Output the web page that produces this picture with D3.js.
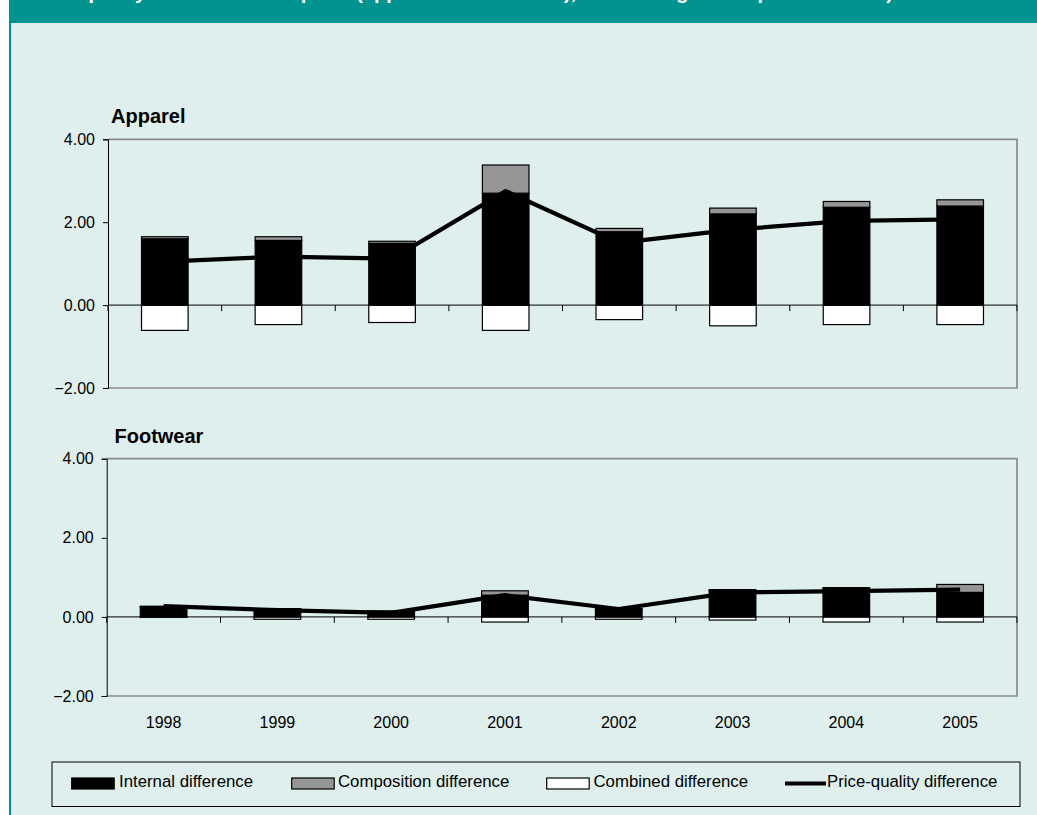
<!DOCTYPE html>
<html>
<head>
<meta charset="utf-8">
<script src="https://cdn.jsdelivr.net/npm/d3@7"></script>
<style>
  html, body { margin: 0; padding: 0; background: #ffffff; }
  svg { display: block; }
  text { font-family: "Liberation Sans", Arial, Helvetica, sans-serif; }
</style>
</head>
<body>
<svg id="chart" width="1037" height="815"></svg>
<script>
// ---------------- DATA ----------------
const years = ["1998", "1999", "2000", "2001", "2002", "2003", "2004", "2005"];
const yTickValues = [-2, 0, 2, 4];

const apparelInternal    = [1.60, 1.56, 1.49, 2.70, 1.77, 2.20, 2.36, 2.39];
const apparelComposition = [0.05, 0.09, 0.05, 0.68, 0.08, 0.14, 0.14, 0.15];
const apparelCombined    = [-0.61, -0.47, -0.42, -0.61, -0.35, -0.50, -0.47, -0.47];
const apparelPriceQuality = [1.05, 1.17, 1.12, 2.75, 1.50, 1.82, 2.03, 2.07];

const footwearInternal    = [0.25, 0.19, 0.14, 0.55, 0.19, 0.66, 0.71, 0.62];
const footwearComposition = [0.02, 0.02, 0.01, 0.11, 0.02, 0.03, 0.03, 0.20];
const footwearCombined    = [-0.01, -0.06, -0.06, -0.13, -0.06, -0.08, -0.13, -0.13];
const footwearPriceQuality = [0.27, 0.17, 0.10, 0.55, 0.20, 0.62, 0.65, 0.69];

const seriesNames = ["Internal difference", "Composition difference", "Combined difference", "Price-quality difference"];
const panelTitles = ["Apparel", "Footwear"];
const titleText = "Figure 4.3 Price-quality difference of imports (apparel and footwear), total changes compared to 1998)";

// ---------------- STYLE ----------------
const BG = "#DEEFEE";
const TEAL = "#00938F";
const GRAY = "#969696";

const svg = d3.select("#chart");

// page background
svg.append("rect").attr("x", 0).attr("y", 0).attr("width", 1037).attr("height", 815).attr("fill", "#ffffff");
svg.append("rect").attr("x", 10).attr("y", 0).attr("width", 1027).attr("height", 815).attr("fill", BG);
// left teal border
svg.append("rect").attr("x", 9).attr("y", 0).attr("width", 2).attr("height", 815).attr("fill", TEAL);
// header banner
svg.append("rect").attr("x", 9).attr("y", 0).attr("width", 1028).attr("height", 23).attr("fill", TEAL);
svg.append("text")
  .attr("x", 893).attr("y", -1.2)
  .attr("text-anchor", "end")
  .attr("fill", "#ffffff")
  .attr("font-weight", "bold")
  .attr("font-size", 20)
  .text(titleText);

const panels = [
  { title: panelTitles[0], internal: apparelInternal, composition: apparelComposition,
    combined: apparelCombined, line: apparelPriceQuality,
    left: 108, right: 1017, top: 139.3, bottom: 388, titleX: 111, titleY: 122.5, showYears: false },
  { title: panelTitles[1], internal: footwearInternal, composition: footwearComposition,
    combined: footwearCombined, line: footwearPriceQuality,
    left: 106.7, right: 1017, top: 458.7, bottom: 696, titleX: 114.5, titleY: 443, showYears: true }
];

panels.forEach(p => {
  const g = svg.append("g");
  const x = d3.scaleBand().domain(years).range([p.left, p.right]).padding(0);
  const y = d3.scaleLinear().domain([-2, 4]).range([p.bottom, p.top]);
  const bw = x.bandwidth() * 0.41;
  const bx = d => x(d) + (x.bandwidth() - bw) / 2;

  // plot frame: top, right, bottom (gray)
  g.append("path")
    .attr("d", `M${p.left},${y(4)} H${p.right} V${y(-2)} H${p.left}`)
    .attr("fill", "none").attr("stroke", "#8A8A8A").attr("stroke-width", 1.7);

  // y axis
  const yAxis = d3.axisLeft(y).tickValues(yTickValues).tickSize(5).tickPadding(8)
    .tickFormat(d3.format(".2f"));
  const ya = g.append("g").attr("transform", `translate(${p.left},0)`).call(yAxis);
  ya.select(".domain").attr("stroke", "#000").attr("stroke-width", 1);
  ya.selectAll(".tick line").attr("stroke", "#000");
  ya.selectAll(".tick text").attr("font-size", 16).attr("fill", "#000")
    .attr("font-family", "'Liberation Sans', Arial, sans-serif");

  // panel title
  g.append("text").attr("x", p.titleX).attr("y", p.titleY)
    .attr("font-size", 20).attr("font-weight", "bold").attr("fill", "#000")
    .text(p.title);

  const idx = years.map((d, i) => i);

  // combined (negative, white)
  g.selectAll(".comb").data(idx).enter().append("rect")
    .attr("x", i => bx(years[i]))
    .attr("width", bw)
    .attr("y", i => Math.min(y(0), y(p.combined[i])))
    .attr("height", i => Math.abs(y(p.combined[i]) - y(0)))
    .attr("fill", "#ffffff").attr("stroke", "#000").attr("stroke-width", 1.2);

  // internal (black)
  g.selectAll(".int").data(idx).enter().append("rect")
    .attr("x", i => bx(years[i]))
    .attr("width", bw)
    .attr("y", i => y(p.internal[i]))
    .attr("height", i => y(0) - y(p.internal[i]))
    .attr("fill", "#000").attr("stroke", "#000").attr("stroke-width", 1.2);

  // composition (gray, stacked on internal)
  g.selectAll(".comp").data(idx).enter().append("rect")
    .attr("x", i => bx(years[i]))
    .attr("width", bw)
    .attr("y", i => y(p.internal[i] + p.composition[i]))
    .attr("height", i => y(p.internal[i]) - y(p.internal[i] + p.composition[i]))
    .attr("fill", GRAY).attr("stroke", "#000").attr("stroke-width", 1.2);

  // zero line + category ticks
  g.append("line").attr("x1", p.left).attr("x2", p.right)
    .attr("y1", y(0)).attr("y2", y(0)).attr("stroke", "#000").attr("stroke-width", 1);
  const bounds = years.map(d => x(d)).concat([p.right]);
  g.selectAll(".xt").data(bounds).enter().append("line")
    .attr("x1", d => d).attr("x2", d => d)
    .attr("y1", y(0)).attr("y2", y(0) + 6)
    .attr("stroke", "#000").attr("stroke-width", 1);

  // price-quality line
  const line = d3.line().x(i => x(years[i]) + x.bandwidth() / 2).y(i => y(p.line[i]));
  g.append("path").datum(idx).attr("d", line)
    .attr("fill", "none").attr("stroke", "#000").attr("stroke-width", 4.2)
    .attr("stroke-linejoin", "round");

  if (p.showYears) {
    g.selectAll(".yl").data(years).enter().append("text")
      .attr("x", d => x(d) + x.bandwidth() / 2)
      .attr("y", 727.5)
      .attr("text-anchor", "middle")
      .attr("font-size", 16).attr("fill", "#000")
      .text(d => d);
  }
});

// ---------------- LEGEND ----------------
const lg = svg.append("g");
lg.append("rect").attr("x", 52).attr("y", 762).attr("width", 968).attr("height", 44.5)
  .attr("fill", "none").attr("stroke", "#000").attr("stroke-width", 1);

const legendItems = [
  { name: seriesNames[0], type: "rect", fill: "#000", sx: 71.7, tx: 119 },
  { name: seriesNames[1], type: "rect", fill: GRAY, sx: 291.7, tx: 338 },
  { name: seriesNames[2], type: "rect", fill: "#ffffff", sx: 546.7, tx: 593.5 },
  { name: seriesNames[3], type: "line", fill: "#000", sx: 785, tx: 827 }
];
legendItems.forEach(it => {
  if (it.type === "rect") {
    lg.append("rect").attr("x", it.sx).attr("y", 778).attr("width", 42.5).attr("height", 11)
      .attr("fill", it.fill).attr("stroke", "#000").attr("stroke-width", 1.2);
  } else {
    lg.append("line").attr("x1", it.sx).attr("x2", it.sx + 41).attr("y1", 783.5).attr("y2", 783.5)
      .attr("stroke", "#000").attr("stroke-width", 4.2);
  }
  lg.append("text").attr("x", it.tx).attr("y", 787)
    .attr("font-size", 16.8).attr("fill", "#000")
    .text(it.name);
});
</script>
</body>
</html>
